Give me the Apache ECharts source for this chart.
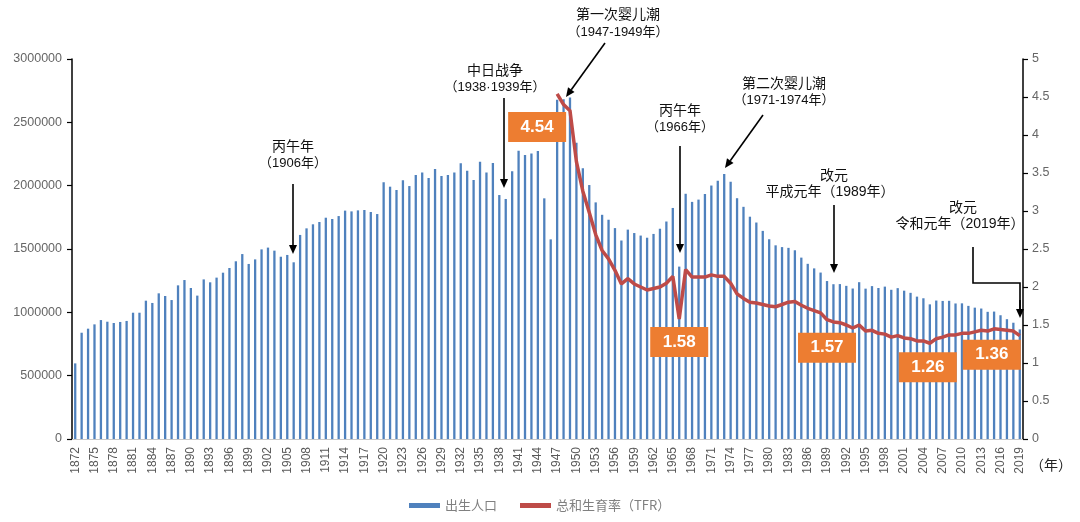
<!DOCTYPE html>
<html>
<head>
<meta charset="utf-8">
<script src="https://cdn.jsdelivr.net/npm/echarts@6/dist/echarts.min.js"></script>
<style>
html,body{margin:0;padding:0;background:#fff;}
#c{width:1080px;height:522px;}
</style>
</head>
<body>
<div id="c"></div>
<script>
// ---------- data ----------
const firstYear = 1872;
const lastYear = 2019;
const years = [];
for (let y = firstYear; y <= lastYear; y++) years.push(String(y));

// births per year (出生人口), 1872-2019
const births = [
  597000, 839000, 871000, 905000, 939000, 926000, 916000, 924000, 932000, 997000,      // 1872-1881
  997000, 1092000, 1074000, 1150000, 1129000, 1097000, 1213000, 1255000, 1192000, 1132000, // 1882-1891
  1260000, 1237000, 1274000, 1313000, 1350000, 1403000, 1460000, 1382000, 1418000, 1497000, // 1892-1901
  1511000, 1487000, 1439000, 1453000, 1395000, 1611000, 1663000, 1695000, 1713000, 1747000, // 1902-1911
  1737000, 1760000, 1803000, 1797000, 1805000, 1808000, 1792000, 1776000, 2026000, 1992000, // 1912-1921
  1966000, 2042000, 1997000, 2084000, 2103000, 2060000, 2132000, 2076000, 2084000, 2103000, // 1922-1931
  2176000, 2118000, 2045000, 2189000, 2103000, 2179000, 1926000, 1895000, 2113000, 2276000, // 1932-1941
  2242000, 2253000, 2274000, 1900000, 1576000, 2679000, 2682000, 2697000, 2338000, 2138000, // 1942-1951
  2005000, 1868000, 1770000, 1731000, 1665000, 1567000, 1653000, 1626000, 1606000, 1589000, // 1952-1961
  1619000, 1660000, 1717000, 1824000, 1361000, 1936000, 1872000, 1890000, 1934000, 2001000, // 1962-1971
  2039000, 2092000, 2030000, 1901000, 1833000, 1755000, 1709000, 1643000, 1577000, 1529000, // 1972-1981
  1515000, 1509000, 1490000, 1432000, 1383000, 1347000, 1314000, 1247000, 1222000, 1223000, // 1982-1991
  1209000, 1188000, 1238000, 1187000, 1207000, 1192000, 1203000, 1178000, 1191000, 1171000, // 1992-2001
  1154000, 1124000, 1111000, 1063000, 1093000, 1090000, 1091000, 1070000, 1071000, 1051000, // 2002-2011
  1037000, 1030000, 1004000, 1006000, 977000, 946000, 918000, 865000                       // 2012-2019
];

// total fertility rate (总和生育率), 1947-2019
const tfrStartYear = 1947;
const tfr = [
  4.54, 4.40, 4.32, 3.65, 3.26, 2.98, 2.69, 2.48, 2.37, 2.22,
  2.04, 2.11, 2.04, 2.00, 1.96, 1.98, 2.00, 2.05, 2.14, 1.58,
  2.23, 2.13, 2.13, 2.13, 2.16, 2.14, 2.14, 2.05, 1.91, 1.85,
  1.80, 1.79, 1.77, 1.75, 1.74, 1.77, 1.80, 1.81, 1.76, 1.72,
  1.69, 1.66, 1.57, 1.54, 1.53, 1.50, 1.46, 1.50, 1.42, 1.43,
  1.39, 1.38, 1.34, 1.36, 1.33, 1.32, 1.29, 1.29, 1.26, 1.32,
  1.34, 1.37, 1.37, 1.39, 1.39, 1.41, 1.43, 1.42, 1.45, 1.44,
  1.43, 1.42, 1.36
];

// highlighted TFR values
const calloutYears = [1947, 1966, 1989, 2005, 2019];

// ---------- layout (pixel offsets of callout boxes from their points) ----------
const calloutOffsets = [[-20, 33], [0, 23], [0, 28], [-2, 24], [-28, 19]];

const tfrOffset = tfrStartYear - firstYear;
const tfrSeries = years.map((y, i) => (i < tfrOffset ? null : tfr[i - tfrOffset]));

const FONT_NUM = 'Liberation Sans, Arial, sans-serif';
const FONT_CJK = 'Noto Sans CJK SC, sans-serif';
const FONT_MIX = 'Liberation Sans, Noto Sans CJK SC, sans-serif';

const chart = echarts.init(document.getElementById('c'));

chart.setOption({
  animation: false,
  backgroundColor: '#fff',
  grid: { left: 72, right: 57, top: 59, bottom: 83, containLabel: false },
  legend: {
    left: 404,
    top: 494,
    itemWidth: 31,
    itemHeight: 5,
    itemGap: 23,
    textStyle: { color: '#808080', fontSize: 13, fontFamily: FONT_CJK },
    data: [
      { name: '出生人口', icon: 'rect' },
      { name: '总和生育率（TFR）', icon: 'rect' }
    ]
  },
  xAxis: {
    type: 'category',
    data: years,
    boundaryGap: true,
    axisLine: { show: true, lineStyle: { color: '#C8C8C8', width: 1 } },
    axisTick: { show: false },
    axisLabel: {
      interval: 2,
      rotate: 90,
      margin: 8,
      color: '#595959',
      fontSize: 12,
      fontFamily: FONT_NUM
    },
    splitLine: { show: false }
  },
  yAxis: [
    {
      type: 'value',
      min: 0,
      max: 3000000,
      interval: 500000,
      axisLine: { show: true, lineStyle: { color: '#000', width: 1.5 } },
      axisTick: { show: true, length: 5, lineStyle: { color: '#000', width: 1.2 } },
      axisLabel: { color: '#666', fontSize: 12.5, fontFamily: FONT_NUM, margin: 10, formatter: v => String(v) },
      splitLine: { show: false }
    },
    {
      type: 'value',
      min: 0,
      max: 5,
      interval: 0.5,
      position: 'right',
      axisLine: { show: true, lineStyle: { color: '#000', width: 1.5 } },
      axisTick: { show: true, length: 5, lineStyle: { color: '#000', width: 1.2 } },
      axisLabel: { color: '#666', fontSize: 12.5, fontFamily: FONT_NUM, margin: 9 },
      splitLine: { show: false }
    }
  ],
  series: [
    {
      name: '出生人口',
      type: 'bar',
      data: births,
      barWidth: 2.3,
      itemStyle: { color: '#4F81BD' },
      yAxisIndex: 0
    },
    {
      name: '总和生育率（TFR）',
      type: 'line',
      data: tfrSeries,
      yAxisIndex: 1,
      symbol: 'none',
      connectNulls: false,
      lineStyle: { color: '#BE4B48', width: 3.5 },
      itemStyle: { color: '#BE4B48' },
      z: 3
    }
  ]
});

// ---------- annotations ----------
function arrow(x1, y1, x2, y2) {
  const a = Math.atan2(y2 - y1, x2 - x1);
  const L = 9, W = 4;
  const bx = x2 - L * Math.cos(a), by = y2 - L * Math.sin(a);
  const px = -Math.sin(a), py = Math.cos(a);
  return [
    { type: 'line', silent: true, z: 20, shape: { x1: x1, y1: y1, x2: bx, y2: by }, style: { stroke: '#000', lineWidth: 1.6 } },
    { type: 'polygon', silent: true, z: 20, shape: { points: [[x2, y2], [bx + W * px, by + W * py], [bx - W * px, by - W * py]] }, style: { fill: '#000' } }
  ];
}
function label(text, x, y, size, font) {
  return {
    type: 'text', silent: true, z: 20, x: x, y: y,
    style: { text: text, fill: '#111', fontSize: size || 14, fontFamily: font || FONT_CJK, textAlign: 'center', textVerticalAlign: 'middle' }
  };
}

const g = [];
// 丙午年 1906
g.push(label('丙午年', 293, 146), label('（1906年）', 293, 163, 13, FONT_MIX));
g.push(...arrow(293, 184, 293, 254));
// 中日战争
g.push(label('中日战争', 495, 70), label('（1938·1939年）', 495, 87, 13, FONT_MIX));
g.push(...arrow(504, 98, 504, 188));
// 第一次婴儿潮
g.push(label('第一次婴儿潮', 618, 14), label('（1947-1949年）', 618, 32, 13, FONT_MIX));
g.push(...arrow(605, 43, 566, 97));
// 丙午年 1966
g.push(label('丙午年', 680, 110), label('（1966年）', 680, 127, 13, FONT_MIX));
g.push(...arrow(680, 146, 680, 253));
// 第二次婴儿潮
g.push(label('第二次婴儿潮', 784, 83), label('（1971-1974年）', 784, 100, 13, FONT_MIX));
g.push(...arrow(763, 115, 725, 168));
// 平成
g.push(label('改元', 834, 175), label('平成元年（1989年）', 830, 192, 14, FONT_MIX));
g.push(...arrow(834, 205, 834, 273));
// 令和
g.push(label('改元', 963, 207), label('令和元年（2019年）', 960, 224, 14, FONT_MIX));
g.push({ type: 'polyline', silent: true, z: 20, shape: { points: [[973, 247], [973, 283], [1020, 283], [1020, 310]] }, style: { stroke: '#000', lineWidth: 1.6, fill: null } });
g.push(...arrow(1020, 300, 1020, 318));
// (年)
g.push({ type: 'text', silent: true, z: 20, x: 1051, y: 465, style: { text: '（年）', fill: '#222', fontSize: 14, fontFamily: FONT_CJK, textAlign: 'center', textVerticalAlign: 'middle' } });

// callout boxes anchored to the TFR points
calloutYears.forEach((yr, k) => {
  const idx = yr - firstYear;
  const val = tfrSeries[idx];
  const p = chart.convertToPixel({ seriesIndex: 1 }, [idx, val]);
  const cx = p[0] + calloutOffsets[k][0];
  const cy = p[1] + calloutOffsets[k][1];
  g.push({ type: 'rect', silent: true, z: 30, shape: { x: cx - 29, y: cy - 15, width: 58, height: 30 }, style: { fill: '#ED7D31' } });
  g.push({ type: 'text', silent: true, z: 31, x: cx, y: cy, style: { text: val.toFixed(2), fill: '#fff', fontSize: 17, fontWeight: 'bold', fontFamily: FONT_NUM, textAlign: 'center', textVerticalAlign: 'middle' } });
});

chart.setOption({ graphic: { elements: g } });
</script>
</body>
</html>
